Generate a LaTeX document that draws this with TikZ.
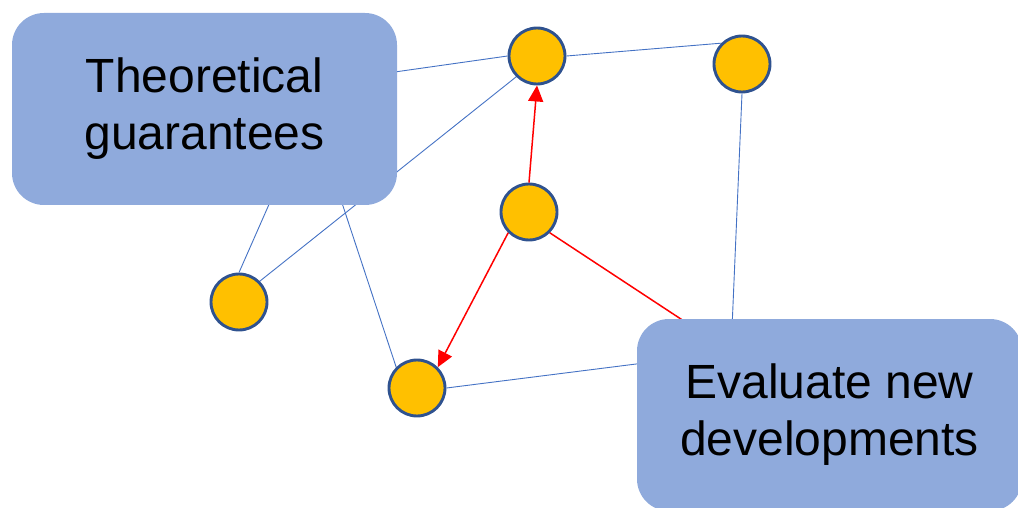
\documentclass[tikz,border=0pt]{standalone}
\usepackage{fontspec}
\setmainfont{Liberation Sans}
\usetikzlibrary{arrows.meta}
\definecolor{dotfill}{HTML}{FFC000}
\definecolor{dotline}{HTML}{2F528F}
\definecolor{linkblue}{HTML}{4472C4}
\definecolor{boxblue}{HTML}{8FAADC}

\begin{document}
\begin{tikzpicture}[x=1pt, y=-1pt,
	c/.style={circle, draw=dotline, fill=dotfill, line width=2.9pt, minimum size=56pt, inner sep=0pt},
	b/.style={rounded corners=32pt, fill=boxblue, minimum width=385pt, minimum height=192pt, align=center, font=\fontsize{48}{57}\selectfont},
	l/.style={draw=linkblue, line width=0.9pt},
	r/.style={draw=red, line width=1.5pt},
	tip/.style={-{Triangle[length=16pt, width=15pt]}}]
	\useasboundingbox (0,0) rectangle (1018,508);

	\node[c] (a) at (537,56) {};
	\node[c] (b) at (742,64) {};
	\node[c] (m) at (529,212) {};
	\node[c] (d) at (239,302) {};
	\node[c] (e) at (417,388) {};
	\coordinate (t1) at (311,109);
	\coordinate (t2) at (310,84);
	\coordinate (g) at (731,352);

	\draw[l] (t2) -- (a.west);
	\draw[l] (a.east) -- (b.north west);
	\draw[l] (d.north east) -- (a.south west);
	\draw[l] (d.north) -- (t1);
	\draw[l] (e.north west) -- (t1);
	\draw[l] (e.east) -- (g);
	\draw[l] (b.south) -- (g);

	\draw[r, tip] (m.north) -- (a.south);
	\draw[r, tip] (m.south west) -- (e.north east);
	\draw[r] (m.south east) -- (g);

	\node[b] (theory) at (204.5,109) {Theoretical\\guarantees};
	\node[b] (evaluate) at (829.5,415) {Evaluate new\\developments};
\end{tikzpicture}
\end{document}
